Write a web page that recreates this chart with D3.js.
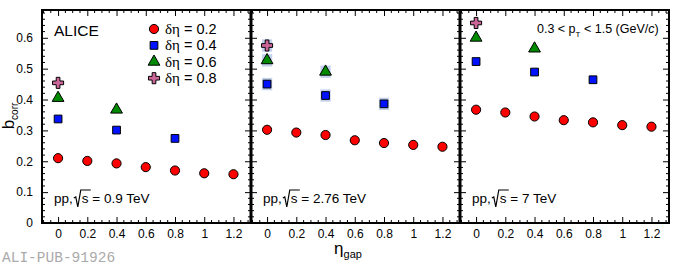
<!DOCTYPE html>
<html>
<head>
<meta charset="utf-8">
<script src="https://cdn.jsdelivr.net/npm/d3@7"></script>
<style>
  body { margin: 0; background: #fff; }
</style>
</head>
<body>
<div id="chart"></div>
<script>
// values
var energies = ["0.9", "2.76", "7"];
var etaGap = [0, 0.2, 0.4, 0.6, 0.8, 1.0, 1.2];
var gap04 = [0, 0.4, 0.8];
var gap06 = [0, 0.4];
var gap08 = [0];

// b_corr per energy, one array per delta-eta
var b02 = [[0.210, 0.201, 0.193, 0.181, 0.170, 0.161, 0.158],
           [0.302, 0.293, 0.285, 0.268, 0.259, 0.253, 0.247],
           [0.367, 0.358, 0.345, 0.333, 0.326, 0.317, 0.312]];
var b04 = [[0.337, 0.301, 0.274],
           [0.450, 0.413, 0.386],
           [0.523, 0.489, 0.464]];
var b06 = [[0.405, 0.367],
           [0.527, 0.490],
           [0.600, 0.565]];
var b08 = [[0.454], [0.575], [0.648]];

var xTicks = [0, 0.2, 0.4, 0.6, 0.8, 1, 1.2];
var yTicks = [0, 0.1, 0.2, 0.3, 0.4, 0.5, 0.6];
var legendLabels = ["0.2", "0.4", "0.6", "0.8"];

var SANS = "Liberation Sans, Arial, sans-serif",
    SERIF = "Liberation Serif, serif",
    MONO = "Liberation Mono, monospace";

var margin = {top: 10, left: 42},
    pw = 209,
    ph = 213,
    W = 681, H = 265;

var x = d3.scaleLinear().domain([-0.11, 1.32]).range([0, pw]);
var y = d3.scaleLinear().domain([0, 0.69]).range([ph, 0]);

var svg = d3.select("#chart").append("svg")
    .attr("width", W)
    .attr("height", H)
    .style("font-family", SANS);

var series = [
  {gaps: etaGap, vals: b02, type: d3.symbolCircle, size: 66, fill: "#ff0000"},
  {gaps: gap04, vals: b04, type: d3.symbolSquare, size: 60, fill: "#0011ff"},
  {gaps: gap06, vals: b06, type: d3.symbolTriangle, size: 60, fill: "#008a00"},
  {gaps: gap08, vals: b08, type: d3.symbolCross, size: 68, fill: "#cc6699"}
];

var minorX = d3.range(-0.1, 1.31, 0.05).filter(v => Math.abs(Math.round(v / 0.2) * 0.2 - v) > 1e-6);
var minorY = d3.range(0.02, 0.69, 0.02).filter(v => Math.abs(Math.round(v / 0.1) * 0.1 - v) > 1e-6);

energies.forEach(function(e, i) {
  var g = svg.append("g")
      .attr("transform", "translate(" + (margin.left + i * pw) + "," + margin.top + ")");

  // minor ticks
  var tk = g.append("g").attr("stroke", "#000").attr("stroke-width", 1);
  minorX.forEach(function(v) {
    tk.append("line").attr("x1", x(v)).attr("x2", x(v)).attr("y1", ph).attr("y2", ph - 3);
    tk.append("line").attr("x1", x(v)).attr("x2", x(v)).attr("y1", 0).attr("y2", 3);
  });
  minorY.forEach(function(v) {
    tk.append("line").attr("x1", 0).attr("x2", 3).attr("y1", y(v)).attr("y2", y(v));
    tk.append("line").attr("x1", pw).attr("x2", pw - 3).attr("y1", y(v)).attr("y2", y(v));
  });

  // major ticks
  g.append("g")
      .attr("transform", "translate(0," + ph + ")")
      .call(d3.axisBottom(x).tickValues(xTicks).tickSize(-6).tickPadding(6)
        .tickFormat(d3.format("~g")))
      .call(a => a.select(".domain").remove())
      .call(a => a.selectAll("text").attr("font-size", 12).style("font-family", SANS));
  g.append("g")
      .call(d3.axisTop(x).tickValues(xTicks).tickSize(-6).tickFormat(""))
      .call(a => a.select(".domain").remove());
  g.append("g")
      .call(d3.axisLeft(y).tickValues(yTicks).tickSize(-6).tickPadding(9)
        .tickFormat(i === 0 ? d3.format("~g") : ""))
      .call(a => a.select(".domain").remove())
      .call(a => a.selectAll("text").attr("font-size", 12).style("font-family", SANS));
  g.append("g")
      .attr("transform", "translate(" + pw + ",0)")
      .call(d3.axisRight(y).tickValues(yTicks).tickSize(-6).tickFormat(""))
      .call(a => a.select(".domain").remove());

  // frame
  g.append("rect")
      .attr("width", pw).attr("height", ph)
      .attr("fill", "none").attr("stroke", "#000").attr("stroke-width", 2);
  if (i > 0) {
    g.append("line").attr("x1", 0).attr("x2", 0).attr("y1", 0).attr("y2", ph)
        .attr("stroke", "#000").attr("stroke-width", 3);
  }

  // systematic boxes (2.76 TeV)
  if (i === 1) {
    series.slice(1).forEach(function(s) {
      s.gaps.forEach(function(gv, j) {
        var v = s.vals[i][j];
        g.append("rect")
            .attr("x", x(gv - 0.035)).attr("width", x(0.035) - x(-0.035))
            .attr("y", y(v + 0.02)).attr("height", y(0) - y(0.04))
            .attr("fill", "#a9bde6").attr("opacity", 0.7);
      });
    });
  }

  // markers
  series.forEach(function(s) {
    g.selectAll(null)
      .data(s.gaps.map((gv, j) => [gv, s.vals[i][j]]))
      .enter().append("path")
        .attr("d", d3.symbol().type(s.type).size(s.size))
        .attr("transform", d => "translate(" + x(d[0]) + "," + y(d[1]) + ")")
        .attr("fill", s.fill)
        .attr("stroke", "#000")
        .attr("stroke-width", 1);
  });

  // pp, sqrt(s) label
  var lx = 12, lyb = 193;
  var t1 = g.append("text").attr("x", lx).attr("y", lyb)
      .attr("font-size", 13.5).text("pp,");
  var w1 = t1.node().getComputedTextLength();
  var rx = lx + w1 + 1;
  g.append("path")
      .attr("d", "M" + rx + "," + (lyb - 5) + " L" + (rx + 2) + "," + (lyb - 6) +
                 " L" + (rx + 4) + "," + (lyb + 4) + " L" + (rx + 7) + "," + (lyb - 13) +
                 " L" + (rx + 17) + "," + (lyb - 13))
      .attr("fill", "none").attr("stroke", "#000").attr("stroke-width", 1.2);
  g.append("text").attr("x", rx + 8).attr("y", lyb)
      .attr("font-size", 13.5).text("s = " + e + " TeV");
});

// ALICE
svg.append("text").attr("x", 54).attr("y", 36)
    .attr("font-size", 15.5).text("ALICE");

// legend
legendLabels.forEach(function(l, k) {
  var cy = 29 + k * 16.4;
  var s = series[k];
  svg.append("path")
      .attr("d", d3.symbol().type(s.type).size(s.size))
      .attr("transform", "translate(154," + cy + ")")
      .attr("fill", s.fill).attr("stroke", "#000").attr("stroke-width", 1);
  var t = svg.append("text").attr("x", 165).attr("y", cy + 5).attr("font-size", 14.5);
  t.append("tspan").style("font-family", SERIF).attr("font-size", 15).text("δη");
  t.append("tspan").text(" = " + l);
});

// pT range
var pt = svg.append("text").attr("x", 537).attr("y", 33).attr("font-size", 12.5);
pt.append("tspan").text("0.3 < p");
pt.append("tspan").attr("font-size", 8).attr("dy", 4).text("T");
pt.append("tspan").attr("dy", -4).text(" < 1.5  (GeV/");
pt.append("tspan").attr("font-style", "italic").text("c");
pt.append("tspan").text(")");

// axis titles
var yl = svg.append("text")
    .attr("transform", "translate(14,116) rotate(-90)")
    .attr("text-anchor", "middle").attr("font-size", 17);
yl.append("tspan").text("b");
yl.append("tspan").attr("font-size", 10).attr("dy", 4).text("corr");

var xl = svg.append("text")
    .attr("x", 348).attr("y", 254)
    .attr("text-anchor", "middle").attr("font-size", 17);
xl.append("tspan").text("η");
xl.append("tspan").attr("font-size", 11).attr("dy", 4).text("gap");

// watermark
svg.append("text").attr("x", 2).attr("y", 262)
    .style("font-family", MONO)
    .attr("font-size", 14.5)
    .attr("fill", "#aaaaaa").text("ALI-PUB-91926");
</script>
</body>
</html>
